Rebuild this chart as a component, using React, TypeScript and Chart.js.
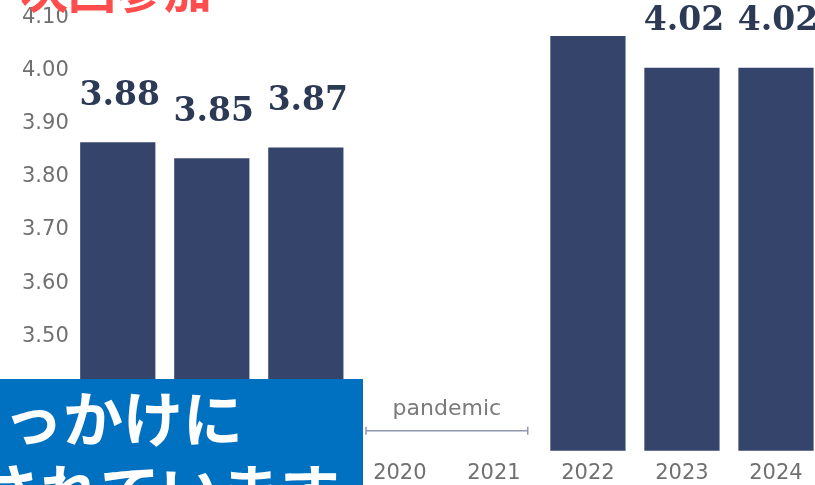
import React, { useEffect, useRef } from 'react';
import { Chart, registerables } from 'chart.js';

Chart.register(...registerables);

// ---- data ----
const years = ['2017', '2018', '2019', '2020', '2021', '2022', '2023', '2024'];
const scores: (number | null)[] = [3.88, 3.85, 3.87, null, null, 4.08, 4.02, 4.02];
const yTicks = [3.4, 3.5, 3.6, 3.7, 3.8, 3.9, 4.0, 4.1];
const yMin = 3.3;
const yMax = 4.12;
const pandemicFrom = '2020';
const pandemicTo = '2021';
const pandemicLabel = 'pandemic';
const titleText = '次回参加';
const boxLines = ['きっかけに', 'されています'];

const BAR_COLOR = '#34446b';
const LABEL_COLOR = '#2c3a56';
const TICK_COLOR = '#707070';

const valueLabels = {
  id: 'valueLabels',
  afterDatasetsDraw(chart: any) {
    const ctx = chart.ctx;
    const meta = chart.getDatasetMeta(0);
    ctx.save();
    ctx.font = 'bold 33px "DejaVu Serif"';
    ctx.fillStyle = LABEL_COLOR;
    ctx.textAlign = 'center';
    ctx.textBaseline = 'middle';
    meta.data.forEach((bar: any, i: number) => {
      const v = scores[i];
      if (v == null) return;
      ctx.fillText(v.toFixed(2), bar.x + 2, bar.y - 46);
    });
    ctx.restore();
  },
};

const pandemicNote = {
  id: 'pandemicNote',
  afterDatasetsDraw(chart: any) {
    const ctx = chart.ctx;
    const xs = chart.scales.x;
    const area = chart.chartArea;
    const x1 = xs.getPixelForValue(years.indexOf(pandemicFrom));
    const x2 = xs.getPixelForValue(years.indexOf(pandemicTo));
    const ext = (x2 - x1) * 0.36;
    const ly = area.bottom - 20;
    ctx.save();
    ctx.strokeStyle = '#8e98b0';
    ctx.lineWidth = 1.5;
    ctx.beginPath();
    ctx.moveTo(x1 - ext, ly);
    ctx.lineTo(x2 + ext, ly);
    ctx.moveTo(x1 - ext, ly - 4);
    ctx.lineTo(x1 - ext, ly + 4);
    ctx.moveTo(x2 + ext, ly - 4);
    ctx.lineTo(x2 + ext, ly + 4);
    ctx.stroke();
    ctx.font = '22px "DejaVu Sans"';
    ctx.fillStyle = '#7a7a7a';
    ctx.textAlign = 'center';
    ctx.textBaseline = 'middle';
    ctx.fillText(pandemicLabel, (x1 + x2) / 2, area.bottom - 42);
    ctx.restore();
  },
};

const overlays = {
  id: 'overlays',
  afterDraw(chart: any) {
    const ctx = chart.ctx;
    ctx.save();
    // red heading (cropped at top)
    ctx.font = 'bold 48px "Noto Sans CJK JP"';
    ctx.fillStyle = '#ff4d4d';
    ctx.textAlign = 'left';
    ctx.textBaseline = 'alphabetic';
    ctx.fillText(titleText, 20, 8);
    // blue caption box (cropped)
    ctx.fillStyle = '#0070c0';
    ctx.fillRect(0, 379, 363, 110);
    ctx.fillStyle = '#ffffff';
    ctx.font = 'bold 60px "Noto Sans CJK JP"';
    ctx.textAlign = 'right';
    ctx.fillText(boxLines[0], 243, 442);
    ctx.fillText(boxLines[1], 340, 515);
    ctx.restore();
  },
};

export default function App() {
  const ref = useRef<HTMLCanvasElement | null>(null);

  useEffect(() => {
    if (!ref.current) return;
    const chart = new Chart(ref.current, {
      type: 'bar',
      data: {
        labels: years,
        datasets: [
          {
            data: scores,
            backgroundColor: BAR_COLOR,
            borderWidth: 0,
            barPercentage: 0.8,
            categoryPercentage: 1,
          },
        ],
      },
      options: {
        responsive: false,
        maintainAspectRatio: false,
        devicePixelRatio: 1,
        animation: false,
        layout: { padding: { left: 20, right: 7, top: 14, bottom: 0 } },
        plugins: {
          legend: { display: false },
          tooltip: { enabled: false },
        },
        scales: {
          x: {
            grid: { display: false, drawTicks: true, tickLength: 11 },
            border: { display: false },
            ticks: {
              color: TICK_COLOR,
              font: { family: '"DejaVu Sans"', size: 21 },
              padding: -1,
            },
          },
          y: {
            min: yMin,
            max: yMax,
            afterBuildTicks: (scale: any) => {
              scale.ticks = yTicks.map((v) => ({ value: v }));
            },
            grid: { display: false, drawTicks: false },
            border: { display: false },
            ticks: {
              color: TICK_COLOR,
              font: { family: '"DejaVu Sans"', size: 21 },
              padding: 2,
              labelOffset: -8,
              callback: (v: any) => Number(v).toFixed(2),
            },
          },
        },
      },
      plugins: [valueLabels, pandemicNote, overlays],
    });
    return () => chart.destroy();
  }, []);

  return (
    <div
      style={{
        position: 'fixed',
        left: 0,
        top: 0,
        width: 815,
        height: 485,
        overflow: 'hidden',
        background: '#ffffff',
      }}
    >
      <canvas ref={ref} width={830} height={485} style={{ display: 'block', width: 830, height: 485 }} />
    </div>
  );
}
